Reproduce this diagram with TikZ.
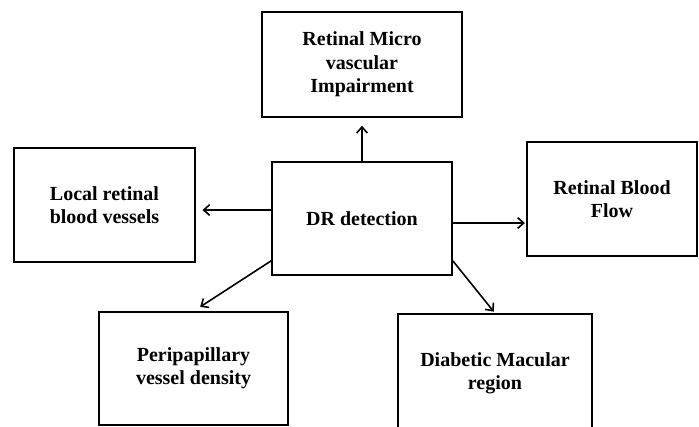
\documentclass[tikz,border=0pt]{standalone}
\usepackage{fontspec}
\setmainfont{Liberation Serif}
\usetikzlibrary{arrows.meta}

\begin{document}
\begin{tikzpicture}[x=0.75pt,y=0.75pt,yscale=-1,xscale=1,
  box/.style={draw,line width=1.2pt,inner sep=0pt,align=center,font=\bfseries\fontsize{15}{17.5}\selectfont},
  arr/.style={line width=1.2pt,-{Straight Barb[length=4.5pt,width=8pt]}}]
%set diagram to 699 x 426
\clip (0,0) rectangle (699,426);

%Shape: Rectangle [id:top]
\node [box,minimum width=150pt,minimum height=78.75pt] (micro) at (362,64.5) {Retinal Micro\\vascular\\Impairment};
%Shape: Rectangle [id:left]
\node [box,minimum width=135.75pt,minimum height=85.5pt] (local) at (104.5,205) {Local retinal\\blood vessels};
%Shape: Rectangle [id:center]
\node [box,minimum width=135pt,minimum height=84.75pt] (dr) at (362,218.5) {DR detection};
%Shape: Rectangle [id:right]
\node [box,minimum width=127.5pt,minimum height=85.5pt] (flow) at (612,199) {Retinal Blood\\Flow};
%Shape: Rectangle [id:bottomleft]
\node [box,minimum width=141.75pt,minimum height=84.75pt] (peri) at (193.5,368.5) {Peripapillary\\vessel density};
%Shape: Rectangle [id:bottomright]
\node [box,minimum width=145.5pt,minimum height=88.5pt] (macular) at (495,373) {Diabetic Macular\\region};

%Straight Lines [id:arrows]
\draw [arr,shorten >=6pt] (dr.north) -- (micro.south) ;
\draw [arr,shorten >=5pt] ([yshift=-6.4pt]dr.west) -- ([yshift=3.75pt]local.east) ;
\draw [arr,shorten >=1pt] ([yshift=3.4pt]dr.east) -- ([yshift=18pt]flow.west) ;
\draw [arr,shorten >=6pt] ([yshift=-11.25pt]dr.south west) -- (peri.north) ;
\draw [arr,shorten >=1.5pt] ([yshift=-11.25pt]dr.south east) -- (macular.north) ;

\end{tikzpicture}
\end{document}
